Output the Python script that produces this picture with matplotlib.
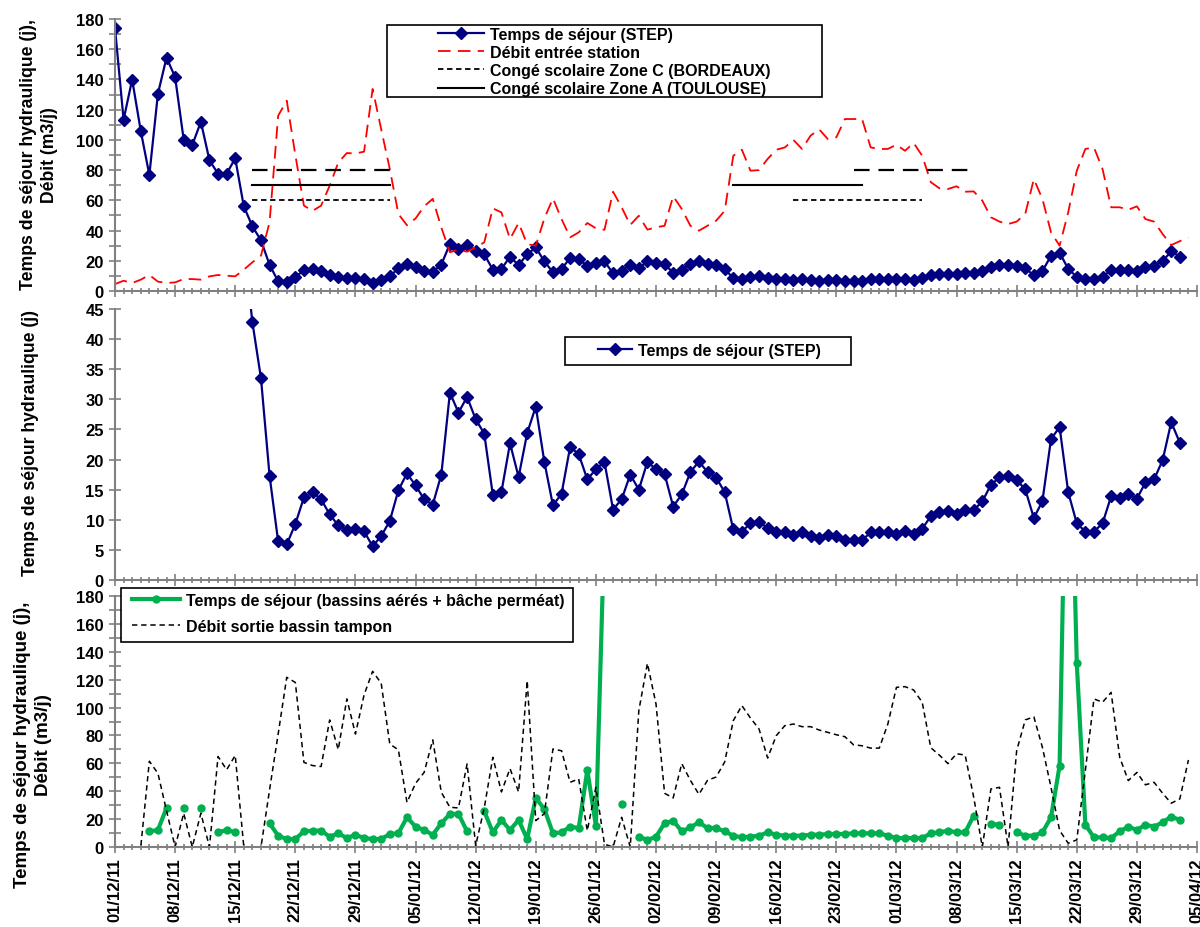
import numpy as np
import pandas as pd
import matplotlib
matplotlib.use("Agg")
import matplotlib.pyplot as plt
import matplotlib.dates as mdates
from matplotlib.patches import Rectangle
from matplotlib.ticker import MultipleLocator

plt.rcParams["font.family"] = ["Liberation Sans", "DejaVu Sans"]
plt.rcParams["font.weight"] = "bold"
plt.rcParams["font.size"] = 12

nan = np.nan

# Temps de séjour (STEP), j - one value per day from 01/12/11
sejour_step = [174, 113.4, 139.9, 105.9, 76.8, 130.6, 154.4, 141.6, 100.1, 96.6,
               112, 86.5, 77.6, 77.6, 87.8, 56, 42.8, 33.5, 17.3, 6.4,
               5.9, 9.3, 13.7, 14.6, 13.4, 10.9, 9.05, 8.3, 8.4, 8.1,
               5.6, 7.3, 9.8, 14.9, 17.7, 15.7, 13.4, 12.5, 17.5, 31.1,
               27.8, 30.4, 26.7, 24.3, 14.1, 14.6, 22.7, 17.1, 24.4, 28.8,
               19.6, 12.4, 14.3, 22.1, 20.9, 16.7, 18.4, 19.6, 11.7, 13.4,
               17.5, 15, 19.6, 18.4, 17.6, 12.2, 14.2, 17.9, 19.7, 17.9,
               17, 14.6, 8.4, 8.05, 9.4, 9.7, 8.6, 8.05, 8.05, 7.4,
               8.05, 7.3, 6.9, 7.4, 7.3, 6.6, 6.6, 6.6, 7.9, 7.9,
               7.9, 7.7, 8.2, 7.6, 8.5, 10.6, 11.3, 11.45, 10.95, 11.7,
               11.6, 13.05, 15.8, 17.05, 17.2, 16.6, 15.05, 10.3, 13.1, 23.4,
               25.4, 14.6, 9.4, 8.05, 8.05, 9.4, 13.9, 13.6, 14.2, 13.5,
               16.2, 16.7, 19.9, 26.2, 22.8]

# Débit entrée station, m3/j
debit_entree = [4.6, 6.8, 5.3, 7.5, 10.6, 6.2, 5.3, 5.7, 7.9, 7.9,
                7.5, 9.7, 10.6, 10.1, 9.7, 14.1, 19, 23.4, 45.5, 116,
                126, 90, 56.5, 53, 56.5, 69.7, 85, 91.3, 91, 92.2,
                133.7, 107, 80.7, 51, 43.5, 48, 56, 61, 42, 25.7,
                27.3, 26, 28.9, 32.2, 54.7, 52, 34.4, 45, 31, 30,
                48, 61.3, 47.6, 35.5, 38.8, 45, 41.5, 40.5, 65.7, 55.4,
                43.7, 49.8, 40.6, 42.1, 43.2, 62.7, 54.3, 43.2, 39.9, 43.2,
                46.5, 53.1, 89.5, 93.5, 79.6, 80, 87.4, 93.5, 95, 100,
                94, 102.8, 107, 100.6, 101.7, 113.8, 113.8, 113.8, 95, 94,
                94, 96.8, 92.8, 98, 89.5, 72, 68, 67.5, 69.3, 65.7,
                65.9, 59.8, 48.8, 45.9, 44.3, 45.9, 51, 74.1, 60.9, 38.8,
                30, 52, 79.6, 94, 95, 80.7, 55.4, 55.4, 53.8, 56,
                47.6, 45.9, 37.7, 30.4, 33, 35]

# Temps de séjour (bassins aérés + bâche perméat), j
sejour_bassins = [nan, nan, nan, nan, 11.2, 12.2, 28, nan, 28, nan,
                  28, nan, 10.5, 12.2, 10.5, nan, nan, nan, 17, 8.1,
                  5.7, 5.7, 11.2, 11.7, 11.7, 7.4, 9.8, 6.4, 8.8, 6.4,
                  5.7, 5.7, 9.3, 9.8, 21.3, 14.6, 12.2, 8.8, 17, 23.7,
                  23.7, 11.2, nan, 25.6, 10.5, 19.4, 12.2, 19.4, 5.7, 35.1,
                  27.2, 9.8, 10.5, 14.6, 13.6, 55.2, 15.3, 230, nan, 30.8,
                  nan, 7.4, 5, 7.4, 17, 18.9, 11.2, 14.1, 17.7, 13.6,
                  13.6, 11.2, 8.1, 6.9, 7.4, 8.1, 10.5, 8.8, 8.1, 8.1,
                  8.1, 8.8, 8.8, 9.3, 9.3, 9.3, 9.8, 9.8, 9.8, 9.8,
                  8.1, 6.4, 6.4, 6.4, 6.4, 9.8, 10.5, 11.7, 10.5, 10.5,
                  22.5, nan, 16.5, 16, nan, 10.5, 8.1, 8.1, 10.5, 21.3,
                  58.3, 380, 131.7, 16, 6.9, 6.9, 6.4, 11.2, 14.6, 12.2,
                  16, 14.6, 17.7, 21.8, 19.4]

# Débit sortie bassin tampon, m3/j
debit_sortie = [0, 0, 0, 0, 61.5, 52.8, 26, 0, 24.2, 0,
                24.2, 0, 64.9, 55.4, 65.7, 0, 0, 0, 41, 81,
                121.7, 118, 60.7, 58.4, 57.7, 91.1, 69.9, 106.2, 81, 109,
                126, 117.4, 73.8, 69.7, 32, 45.6, 53.5, 76.8, 39.2, 28.5,
                28, 59.6, 1, 28, 64.3, 39.5, 56.2, 39.5, 119.3, 18.9,
                23.9, 70.3, 69, 46.4, 48.8, 11.7, 42.8, 2, 0, 21.3,
                0, 97.8, 131.7, 102.6, 38.5, 35.2, 59.8, 47.8, 37.8, 47.8,
                50.2, 61, 90.6, 101.4, 92.5, 84.6, 63.8, 79.8, 87, 88.2,
                86.3, 86.3, 83.9, 82.2, 80.5, 79.1, 73.3, 72.6, 70.9, 70.9,
                88.2, 114.5, 115, 112.6, 103.8, 71.2, 65.9, 59.8, 66.9, 65.9,
                35.6, 0, 41.6, 42.8, 0, 69.1, 91.1, 93.4, 71.4, 42.8,
                11.9, 2.7, 5.1, 55, 106.2, 103.8, 110.9, 64.3, 47.6, 53.5,
                44.6, 46.4, 38.5, 31.4, 34.5, 62.4]

# school holidays (start, end) and the level each is drawn at
conge_zone_c = [("2011-12-17", "2012-01-02"), ("2012-02-18", "2012-03-04")]
conge_zone_a = [("2011-12-17", "2012-01-02"), ("2012-02-11", "2012-02-26")]
conge_zone_b = [("2011-12-17", "2012-01-02"), ("2012-02-25", "2012-03-10")]
niveau_c, niveau_a, niveau_b = 60, 70, 80

tick_labels = ["01/12/11", "08/12/11", "15/12/11", "22/12/11", "29/12/11",
               "05/01/12", "12/01/12", "19/01/12", "26/01/12", "02/02/12",
               "09/02/12", "16/02/12", "23/02/12", "01/03/12", "08/03/12",
               "15/03/12", "22/03/12", "29/03/12", "05/04/12"]

start = pd.Timestamp("2011-12-01")
tick_dates = pd.to_datetime(tick_labels, format="%d/%m/%y")
end = tick_dates[-1]


def days(series):
    return pd.date_range(start, periods=len(series), freq="D")


W, H = 1200, 928
fig = plt.figure(figsize=(W / 100, H / 100), dpi=100)


def px_axes(left, top, right, bottom):
    return fig.add_axes([left / W, 1 - bottom / H, (right - left) / W, (bottom - top) / H])


def style(ax, ymax, major, minor=None, labels=False):
    ax.set_xlim(start, end)
    ax.set_ylim(0, ymax)
    for s in ["top", "right"]:
        ax.spines[s].set_visible(False)
    for s in ["left", "bottom"]:
        ax.spines[s].set_color("#808080")
        ax.spines[s].set_linewidth(1.5)
    ax.yaxis.set_major_locator(MultipleLocator(major))
    if minor:
        ax.yaxis.set_minor_locator(MultipleLocator(minor))
    ax.set_xticks(tick_dates)
    ax.xaxis.set_minor_locator(mdates.DayLocator())
    ax.tick_params(which="both", direction="inout", color="#808080", width=1.2, labelsize=12)
    ax.tick_params(which="major", length=8)
    ax.tick_params(which="minor", length=5)
    ax.tick_params(axis="y", which="minor", length=8)
    ax.tick_params(axis="y", pad=4)
    if labels:
        ax.set_xticklabels(tick_labels, rotation=90)
    else:
        ax.set_xticklabels([])


def frame(left, top, right, bottom):
    fig.patches.append(Rectangle((left / W, 1 - bottom / H), (right - left) / W, (bottom - top) / H,
                                 transform=fig.transFigure, fill=False, edgecolor="black", lw=1.2))


blue = "#000080"
red = "#ff0000"
green = "#00b050"

# --- top panel
ax1 = px_axes(115, 20, 1197, 292)
l_step, = ax1.plot(days(sejour_step), sejour_step, color=blue, lw=1.6, marker="D", ms=6,
                   label="Temps de séjour (STEP)")
l_entree, = ax1.plot(days(debit_entree), debit_entree, color=red, lw=1.3, dashes=(7, 4),
                     label="Débit entrée station")
for a, b in conge_zone_c:
    l_c, = ax1.plot(pd.to_datetime([a, b]), [niveau_c] * 2, color="black", lw=1.3, dashes=(3, 2),
                    label="Congé scolaire Zone C (BORDEAUX)")
for a, b in conge_zone_a:
    l_a, = ax1.plot(pd.to_datetime([a, b]), [niveau_a] * 2, color="black", lw=1.5,
                    label="Congé scolaire Zone A (TOULOUSE)")
for a, b in conge_zone_b:
    ax1.plot(pd.to_datetime([a, b]), [niveau_b] * 2, color="black", lw=1.6, dashes=(7, 4))
style(ax1, 180, 20, 10)
ax1.legend(handles=[l_step, l_entree, l_c, l_a], loc="upper left", bbox_to_anchor=(438 / W, 1 - 28 / H),
           bbox_transform=fig.transFigure, frameon=False, handlelength=2.9, handletextpad=0.35,
           labelspacing=0.19, borderpad=0, borderaxespad=0, fontsize=11.5, numpoints=1)
frame(387, 26, 822, 98)
fig.text(39 / W, 1 - 155 / H, "Temps de séjour hydraulique (j),\nDébit (m3/j)", rotation=90,
         ha="center", va="center", multialignment="center", fontsize=12.7, linespacing=1.25)

# --- middle panel
ax2 = px_axes(115, 310, 1197, 581)
ax2.plot(days(sejour_step), sejour_step, color=blue, lw=1.6, marker="D", ms=6,
         label="Temps de séjour (STEP)")
style(ax2, 45, 5)
ax2.legend(loc="upper left", bbox_to_anchor=(598 / W, 1 - 344 / H), bbox_transform=fig.transFigure,
           frameon=False, handlelength=2.1, handletextpad=0.4, borderpad=0, borderaxespad=0,
           fontsize=11.5, numpoints=1)
frame(565, 338, 851, 366)
fig.text(31 / W, 1 - 443 / H, "Temps de séjour hydraulique (j)", rotation=90,
         ha="center", va="center", fontsize=12.7)

# --- bottom panel
ax3 = px_axes(115, 597, 1197, 848)
ax3.plot(days(sejour_bassins), sejour_bassins, color=green, lw=3, marker="o", ms=5,
         label="Temps de séjour (bassins aérés + bâche perméat)")
ax3.plot(days(debit_sortie), debit_sortie, color="black", lw=1.1, dashes=(3.5, 2.5),
         label="Débit sortie bassin tampon")
style(ax3, 180, 20, 10, labels=True)
ax3.legend(loc="upper left", bbox_to_anchor=(132 / W, 1 - 594 / H), bbox_transform=fig.transFigure,
           frameon=False, handlelength=3.0, handletextpad=0.35, labelspacing=0.66, borderpad=0,
           borderaxespad=0, fontsize=11.5, numpoints=1)
frame(121, 589, 573, 643)
fig.text(33 / W, 1 - 745 / H, "Temps de séjour hydraulique (j),\nDébit (m3/j)", rotation=90,
         ha="center", va="center", multialignment="center", fontsize=13.5, linespacing=1.25)

fig.savefig("out.png", dpi=100)
